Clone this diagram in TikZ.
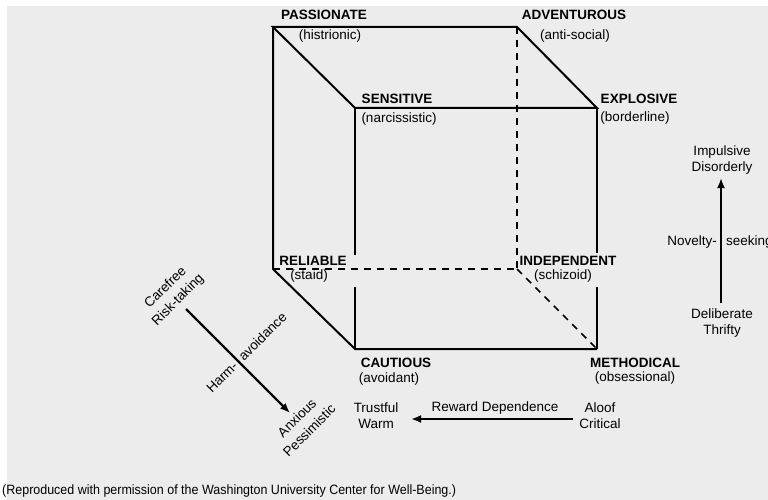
\documentclass[tikz,border=0pt]{standalone}
\usepackage{fontspec}
\setmainfont{Liberation Sans}
\newfontfamily\capfont[FakeStretch=0.925]{Liberation Sans}
\usetikzlibrary{arrows.meta,calc}
\definecolor{bg}{HTML}{ECECEC}
\begin{document}
\begin{tikzpicture}[x=1pt,y=-1pt,
  edge/.style={line width=2pt},
  hidden/.style={line width=1.6pt, dash pattern=on 7pt off 6pt},
  axis/.style={line width=2.2pt, -{Latex[length=10pt,width=8pt]}},
  vlabel/.style={font=\fontsize{13.5}{15}\selectfont\bfseries, inner sep=0pt},
  plabel/.style={font=\fontsize{13.5}{15}\selectfont, inner sep=0pt},
  alabel/.style={font=\fontsize{13.5}{16}\selectfont, inner sep=0pt, align=center},
  rlabel/.style={font=\fontsize{13.5}{17.5}\selectfont, inner sep=0pt, align=center, rotate=45}]
\useasboundingbox (0,0) rectangle (768,500);
\clip (0,0) rectangle (768,500);
\fill[white] (0,0) rectangle (768,500);
\fill[bg] (7,6) rectangle (768,500);

% cube vertices
\coordinate (P) at (273,27);
\coordinate (A) at (517,27);
\coordinate (S) at (355,108);
\coordinate (E) at (597,108);
\coordinate (R) at (273,269);
\coordinate (I) at (517,269);
\coordinate (C) at (355,349);
\coordinate (M) at (597,349);
\coordinate (g1) at (355,255);
\coordinate (g2) at (355,287);
\coordinate (g3) at (597,253);
\coordinate (g4) at (597,287);

% visible edges
\draw[edge, line join=miter] (S) -- (P) -- (A) -- (E) -- (S);
\draw[edge] (P) -- (R) -- (C) -- (M);
\draw[edge] (S) -- (g1);
\draw[edge] (g2) -- (C);
\draw[edge] (E) -- (g3);
\draw[edge] (g4) -- (M);
% hidden edges
\draw[hidden] (A) -- (I);
\draw[hidden] (R) -- (I);
\draw[hidden] (I) -- (M);

% vertex labels
\node[vlabel] (passionate) at (324,15) {PASSIONATE};
\node[plabel] (histrionic) at (330,36) {(histrionic)};
\node[vlabel] (adventurous) at (574,15) {ADVENTUROUS};
\node[plabel] (antisocial) at (575,36) {(anti-social)};
\node[vlabel] (sensitive) at (397,99) {SENSITIVE};
\node[plabel] (narcissistic) at (399,119) {(narcissistic)};
\node[vlabel] (explosive) at (639,99) {EXPLOSIVE};
\node[plabel] (borderline) at (635,118) {(borderline)};
\node[vlabel] (reliable) at (313,261) {RELIABLE};
\node[plabel] (staid) at (309,276) {(staid)};
\node[vlabel] (independent) at (568,261) {INDEPENDENT};
\node[plabel] (schizoid) at (563,276) {(schizoid)};
\node[vlabel] (cautious) at (396,363) {CAUTIOUS};
\node[plabel] (avoidant) at (389,379) {(avoidant)};
\node[vlabel] (methodical) at (635,363) {METHODICAL};
\node[plabel] (obsessional) at (635,378) {(obsessional)};

% Harm-avoidance axis
\node[rlabel] (carefree) at (172,294) {Carefree\\Risk-taking};
\node[rlabel] (anxious) at (303,424) {Anxious\\Pessimistic};
\coordinate (h1) at (186,309);
\coordinate (h2) at (290,413);
\coordinate (hx) at (238,361);
\draw[axis] (h1) -- (h2);
\node[plabel, rotate=45, anchor=east] (harm) at ($(hx)+(-2.5,2.5)$) {Harm-};
\node[plabel, rotate=45, anchor=west] (avoid) at ($(hx)+(2.5,-2.5)$) {avoidance};

% Reward dependence axis
\node[alabel] (trustful) at (376,416) {Trustful\\Warm};
\node[alabel] (aloof) at (600,416) {Aloof\\Critical};
\coordinate (r1) at (573,419);
\coordinate (r2) at (411,419);
\draw[axis] (r1) -- (r2);
\node[plabel] (reward) at (495,408) {Reward Dependence};

% Novelty-seeking axis
\node[alabel] (impulsive) at (722,160) {Impulsive\\Disorderly};
\node[alabel] (deliberate) at (722,323.5) {Deliberate\\Thrifty};
\coordinate (n1) at (721,303);
\coordinate (n2) at (721,178);
\draw[axis] (n1) -- (n2);
\node[plabel, anchor=east] (novelty) at (717,242) {Novelty-};
\node[plabel, anchor=west] (seeking) at (726,242) {seeking};

% caption
\node[font=\capfont\fontsize{13.5}{15}\selectfont, inner sep=0pt, anchor=west] (caption) at (2,491) {(Reproduced with permission of the Washington University Center for Well-Being.)};
\end{tikzpicture}
\end{document}
